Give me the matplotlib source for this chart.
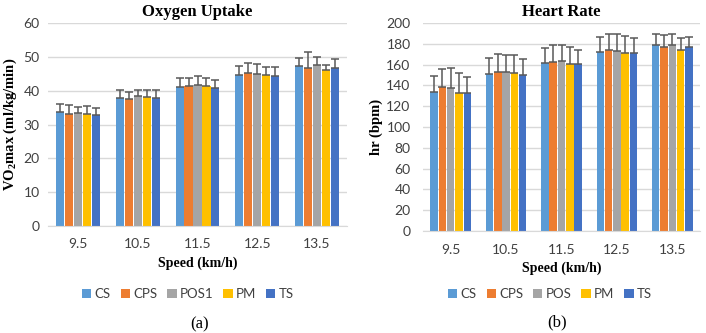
import numpy as np
import matplotlib
matplotlib.use('Agg')
import matplotlib.pyplot as plt

speeds = ['9.5', '10.5', '11.5', '12.5', '13.5']
colors = ['#5B9BD5', '#ED7D31', '#A5A5A5', '#FFC000', '#4472C4']

# Oxygen uptake (VO2max) means and upper error bars
vo2_names = ['CS', 'CPS', 'POS1', 'PM', 'TS']
vo2_cs = [33.6, 37.9, 41.1, 44.6, 47.4]
vo2_cps = [33.1, 37.6, 41.4, 45.3, 46.6]
vo2_pos1 = [33.5, 38.3, 41.8, 45.0, 47.7]
vo2_pm = [33.0, 38.0, 41.4, 44.7, 46.1]
vo2_ts = [32.8, 37.8, 40.9, 44.3, 46.8]
vo2_cs_err = [2.6, 2.2, 2.5, 2.6, 2.4]
vo2_cps_err = [2.7, 1.9, 2.3, 2.9, 4.7]
vo2_pos1_err = [1.7, 2.0, 2.4, 2.8, 2.2]
vo2_pm_err = [2.5, 2.3, 2.2, 2.4, 1.6]
vo2_ts_err = [2.0, 2.3, 2.4, 2.8, 2.6]

# Heart rate means and upper error bars
hr_names = ['CS', 'CPS', 'POS', 'PM', 'TS']
hr_cs = [134, 151, 161.5, 172.5, 179]
hr_cps = [138.5, 152.5, 162.5, 174, 176.5]
hr_pos = [137.5, 153, 163, 173, 178.5]
hr_pm = [133, 151.5, 160.5, 171.5, 174.5]
hr_ts = [133, 150, 160.5, 171.5, 177]
hr_cs_err = [15, 15, 14.5, 14, 10]
hr_cps_err = [17.5, 17.5, 16.5, 15.5, 12]
hr_pos_err = [19.5, 16, 16, 16, 10.5]
hr_pm_err = [19, 17.5, 16.5, 16, 11.5]
hr_ts_err = [15, 15, 13.5, 14, 10]

plt.rcParams['font.family'] = ['Lato', 'DejaVu Sans']
plt.rcParams['mathtext.fontset'] = 'custom'
plt.rcParams['mathtext.rm'] = 'Liberation Serif:bold'
plt.rcParams['mathtext.it'] = 'Liberation Serif:bold'
plt.rcParams['mathtext.bf'] = 'Liberation Serif:bold'
serif = dict(family='Liberation Serif', fontweight='bold')

W, H = 706, 333
fig = plt.figure(figsize=(W / 100, H / 100), dpi=100)
ax1 = fig.add_axes([48/W, 1-226/H, 299/W, 203/H])
ax2 = fig.add_axes([423/W, 1-231/H, 277/W, 208/H])


def draw(ax, names, vals, errs, ymax, ystep, title, ylabel, ypad, ylab_x, xlab_y, leg_x, leg_y):
    x = np.arange(len(speeds))
    for i, (nm, v, e) in enumerate(zip(names, vals, errs)):
        off = (i - 2) * 0.15
        ax.bar(x + off, v, 0.135, color=colors[i], label=nm, zorder=2)
        ax.errorbar(x + off, v, yerr=[np.zeros(len(v)), e], fmt='none',
                    ecolor='#595959', elinewidth=1.1, capsize=3, capthick=1.1, zorder=3)
    ax.set_ylim(0, ymax)
    ax.set_yticks(np.arange(0, ymax + 1, ystep))
    ax.set_xlim(-0.5, len(speeds) - 0.5)
    ax.set_xticks(x)
    ax.set_xticklabels(speeds)
    ax.yaxis.grid(True, color='#D9D9D9', linewidth=1, zorder=0)
    ax.set_axisbelow(True)
    for s in ['top', 'right', 'left']:
        ax.spines[s].set_visible(False)
    ax.spines['bottom'].set_color('#D9D9D9')
    ax.tick_params(length=0, labelsize=10, colors='#404040', pad=9)
    ax.tick_params(axis='y', pad=ypad)
    ax.set_title(title, fontsize=12, pad=5, **serif)
    pos = ax.get_position()
    ax.set_ylabel(ylabel, fontsize=10.5, **serif)
    ax.yaxis.set_label_coords(ylab_x / W, pos.y0 + pos.height / 2, transform=fig.transFigure)
    ax.yaxis.label.set_ha('center')
    ax.yaxis.label.set_va('center')
    ax.set_xlabel('Speed (km/h)', fontsize=10, **serif)
    ax.xaxis.set_label_coords(pos.x0 + pos.width / 2, 1 - xlab_y / H, transform=fig.transFigure)
    ax.xaxis.label.set_va('center')
    ax.legend(loc='center', bbox_to_anchor=(leg_x / W, 1 - leg_y / H),
              bbox_transform=fig.transFigure, ncol=5, frameon=False,
              fontsize=9.5, handlelength=0.7, handleheight=0.7, handletextpad=0.25,
              columnspacing=0.75, labelcolor='#404040')


draw(ax1, vo2_names, [vo2_cs, vo2_cps, vo2_pos1, vo2_pm, vo2_ts],
     [vo2_cs_err, vo2_cps_err, vo2_pos1_err, vo2_pm_err, vo2_ts_err],
     60, 10, 'Oxygen Uptake', r'VO$_2$max (ml/kg/min)', 6, 10, 263, 188, 294)
draw(ax2, hr_names, [hr_cs, hr_cps, hr_pos, hr_pm, hr_ts],
     [hr_cs_err, hr_cps_err, hr_pos_err, hr_pm_err, hr_ts_err],
     200, 20, 'Heart Rate', 'hr (bpm)', 9, 376, 268, 550, 294)

fig.text(200/W, 1-324/H, '(a)', ha='center', va='center', fontsize=12, family='Liberation Serif')
fig.text(557/W, 1-322/H, '(b)', ha='center', va='center', fontsize=12, family='Liberation Serif')

fig.savefig('out.png', dpi=100)
